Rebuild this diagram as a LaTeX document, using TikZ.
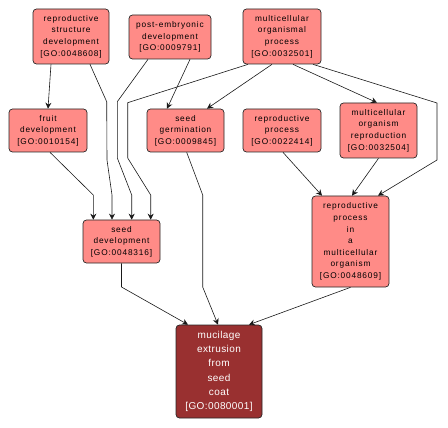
\documentclass[tikz,border=0pt]{standalone}
\usepackage{fontspec}
\newfontfamily\gofont[LetterSpace=10]{Liberation Sans}
\newfontfamily\gofontwide[LetterSpace=4]{Liberation Sans}
\usetikzlibrary{arrows.meta}
\definecolor{termfill}{RGB}{255,139,135}
\definecolor{leaffill}{RGB}{153,48,48}

\begin{document}
\begin{tikzpicture}[x=1pt, y=-1pt,
  term/.style={draw=black!85, rounded corners=3.5pt, fill=termfill, align=center, inner sep=0pt,
    font=\gofont\fontsize{8.3}{11.6}\selectfont, line width=0.7pt},
  leaf/.style={term, fill=leaffill, text=white, font=\gofontwide\fontsize{10}{14.2}\selectfont},
  edge/.style={-{Stealth[length=6pt, width=6pt, inset=2pt]}, line width=0.6pt, black!90},
  >={Stealth[length=6pt]}]
\useasboundingbox (0,0) rectangle (448,428);
% terms
\node[term, minimum width=76pt, minimum height=55pt] (rsd) at (71,36.5) {reproductive\\structure\\development\\{[GO:0048608]}};
\node[term, minimum width=82pt, minimum height=44pt] (ped) at (170,37) {post-embryonic\\development\\{[GO:0009791]}};
\node[term, minimum width=78pt, minimum height=55pt] (mop) at (282,36.5) {multicellular\\organismal\\process\\{[GO:0032501]}};
\node[term, minimum width=78pt, minimum height=43pt] (fruit) at (48,130.5) {fruit\\development\\{[GO:0010154]}};
\node[term, minimum width=77pt, minimum height=43pt] (sg) at (185.5,130.5) {seed\\germination\\{[GO:0009845]}};
\node[term, minimum width=78pt, minimum height=43pt] (rp) at (282,130.5) {reproductive\\process\\{[GO:0022414]}};
\node[term, minimum width=77pt, minimum height=55pt] (mor) at (378.5,130.5) {multicellular\\organism\\reproduction\\{[GO:0032504]}};
\node[term, minimum width=77pt, minimum height=43pt] (sd) at (121.5,241.5) {seed\\development\\{[GO:0048316]}};
\node[term, minimum width=77pt, minimum height=91pt] (rpm) at (350.5,241.5) {reproductive\\process\\in\\a\\multicellular\\organism\\{[GO:0048609]}};
\node[leaf, minimum width=86pt, minimum height=93pt] (muc) at (219,371.5) {mucilage\\extrusion\\from\\seed\\coat\\{[GO:0080001]}};
% links
\draw[edge] ([xshift=-20pt]rsd.south) -- (fruit.north);
\draw[edge] ([xshift=19pt]rsd.south) -- (106.7,101.7) -- (107,160) -- (112,195) -- ([xshift=-9.5pt]sd.north);
\draw[edge] ([xshift=-22pt]ped.south) -- (117.3,101.7) -- (117.3,158) -- (131.7,195) -- ([xshift=10.2pt]sd.north);
\draw[edge] ([xshift=-34pt]mop.south) -- (127.7,102.7) -- (127.7,158) -- (150.7,195) -- ([xshift=29.2pt]sd.north);
\draw[edge] ([xshift=2pt]fruit.south) -- (93.3,195) -- ([xshift=-28.2pt]sd.north);
\draw[edge] ([xshift=20pt]ped.south) -- ([xshift=-18.5pt]sg.north);
\draw[edge] ([xshift=-10pt]mop.south) -- ([xshift=21.5pt]sg.north);
\draw[edge] ([xshift=11pt]mop.south) -- ([xshift=-1.5pt]mor.north);
\draw[edge] ([xshift=31pt]mop.south) -- (437,103) -- (437,160) -- ([xshift=27.5pt]rpm.north);
\draw[edge] ([xshift=1pt]rp.south) -- ([xshift=-28.5pt]rpm.north);
\draw[edge] (mor.south) -- ([xshift=1.5pt]rpm.north);
\draw[edge] (sd.south) -- (121.5,287) -- ([xshift=-31pt]muc.north);
\draw[edge] ([xshift=1.2pt]sg.south) -- (202.7,195) -- (202.7,287) -- ([xshift=-1pt]muc.north);
\draw[edge] (rpm.south) -- ([xshift=30pt]muc.north);
\end{tikzpicture}
\end{document}
